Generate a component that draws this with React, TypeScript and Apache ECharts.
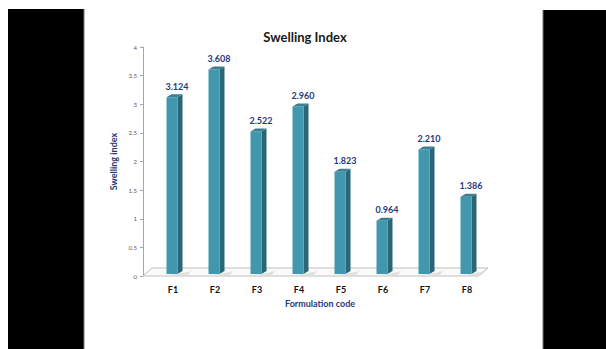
import React, { useEffect, useRef } from "react";
import * as echarts from "echarts";

const categories = ["F1", "F2", "F3", "F4", "F5", "F6", "F7", "F8"];
const swellingIndex = [3.124, 3.608, 2.522, 2.96, 1.823, 0.964, 2.21, 1.386];
const yTicks = [0, 0.5, 1, 1.5, 2, 2.5, 3, 3.5, 4];

const FONT = "Lato, 'Open Sans', sans-serif";
const NAVY = "#1F3A78";

export default function App() {
  const ref = useRef<HTMLDivElement>(null);

  useEffect(() => {
    if (!ref.current) return;
    const chart = echarts.init(ref.current, null, { renderer: "svg" });

    const barData = swellingIndex.map((v, i) => [i, v]);

    chart.setOption({
      animation: false,
      backgroundColor: "#ffffff",
      title: {
        text: "Swelling Index",
        left: 300,
        top: 25,
        textAlign: "center",
        textStyle: { fontFamily: FONT, fontSize: 13, fontWeight: "bold", color: "#1a1a1a" },
      },
      grid: { left: 152, right: 118, top: 47, bottom: 73 },
      xAxis: {
        type: "category",
        data: categories,
        axisLine: { show: false },
        axisTick: { show: false },
        axisLabel: { margin: 9, fontFamily: FONT, fontSize: 9, fontWeight: "bold", color: "#111" },
        name: "Formulation code",
        nameLocation: "middle",
        nameGap: 23,
        nameTextStyle: { fontFamily: FONT, fontSize: 9, fontWeight: "bold", color: NAVY },
      },
      yAxis: {
        type: "value",
        min: 0,
        max: 4,
        interval: 0.5,
        offset: 9,
        axisLine: { show: true, lineStyle: { color: "#A6A6A6", width: 1 } },
        axisTick: { show: true, length: 3, lineStyle: { color: "#A6A6A6" } },
        splitLine: { show: false },
        axisLabel: {
          margin: 6,
          fontFamily: FONT,
          fontSize: 6,
          color: "#595959",
          formatter: (v: number) => (yTicks.includes(v) ? String(v) : ""),
        },
        name: "Swelling index",
        nameLocation: "middle",
        nameGap: 21,
        nameTextStyle: { fontFamily: FONT, fontSize: 9, fontWeight: "bold", color: NAVY },
      },
      graphic: [
        { type: "rect", left: 8, top: 9, shape: { width: 76, height: 340 }, style: { fill: "#000" }, z: 100 },
        { type: "rect", left: 543, top: 10, shape: { width: 63, height: 339 }, style: { fill: "#000" }, z: 100 },
        { type: "line", shape: { x1: 84, y1: 9, x2: 84, y2: 349 }, style: { stroke: "#777", lineWidth: 1 }, z: 100 },
        { type: "line", shape: { x1: 543, y1: 10, x2: 543, y2: 349 }, style: { stroke: "#777", lineWidth: 1 }, z: 100 },
      ],
      series: [
        {
          // 3D floor under the bars
          type: "custom",
          z: 1,
          data: [[0, 0]],
          renderItem: (params: any, api: any) => {
            const band = api.size([1, 0])[0];
            const first = api.coord([0, 0]);
            const last = api.coord([categories.length - 1, 0]);
            const left = first[0] - band / 2;
            const right = last[0] + band / 2;
            const y0 = first[1];
            return {
              type: "polygon",
              shape: {
                points: [
                  [left - 9, y0],
                  [right - 10, y0],
                  [right, y0 - 8],
                  [left, y0 - 8],
                ],
              },
              style: { fill: "#FAFAFA", stroke: "#BFBFBF", lineWidth: 1 },
            };
          },
        },
        {
          type: "custom",
          z: 2,
          data: barData,
          renderItem: (params: any, api: any) => {
            const idx = api.value(0);
            const val = api.value(1);
            const top = api.coord([idx, val]);
            const base = api.coord([idx, 0]);
            const w = 11;
            const dx = 5;
            const dy = 3;
            const x0 = top[0] - w / 2 - 1;
            const yT = top[1];
            const yB = base[1] - 2;
            return {
              type: "group",
              children: [
                {
                  type: "polygon",
                  shape: {
                    points: [
                      [x0 + w, yB],
                      [x0 + w + 14, yB - 3],
                      [x0 + w + 10, yB + 1],
                      [x0 + 2, yB + 1],
                    ],
                  },
                  style: { fill: "#D9D9D9", opacity: 0.8 },
                },
                {
                  type: "polygon",
                  shape: {
                    points: [
                      [x0 + w, yT],
                      [x0 + w + dx, yT - dy],
                      [x0 + w + dx, yB - dy],
                      [x0 + w, yB],
                    ],
                  },
                  style: { fill: "#2B6676" },
                },
                {
                  type: "rect",
                  shape: { x: x0, y: yT, width: w, height: yB - yT },
                  style: { fill: "#4198AE" },
                },
                {
                  type: "polygon",
                  shape: {
                    points: [
                      [x0, yT],
                      [x0 + dx, yT - dy],
                      [x0 + w + dx, yT - dy],
                      [x0 + w, yT],
                    ],
                  },
                  style: { fill: "#3A7F91" },
                },
                {
                  type: "text",
                  style: {
                    x: x0 + w / 2 + 5,
                    y: yT - 11,
                    text: val.toFixed(3),
                    fill: NAVY,
                    font: `bold 9px ${FONT}`,
                    align: "center",
                    verticalAlign: "middle",
                  },
                },
              ],
            };
          },
        },
      ],
    });

    return () => chart.dispose();
  }, []);

  return (
    <div
      ref={ref}
      style={{ position: "absolute", left: 0, top: 0, width: 606, height: 349 }}
    />
  );
}
